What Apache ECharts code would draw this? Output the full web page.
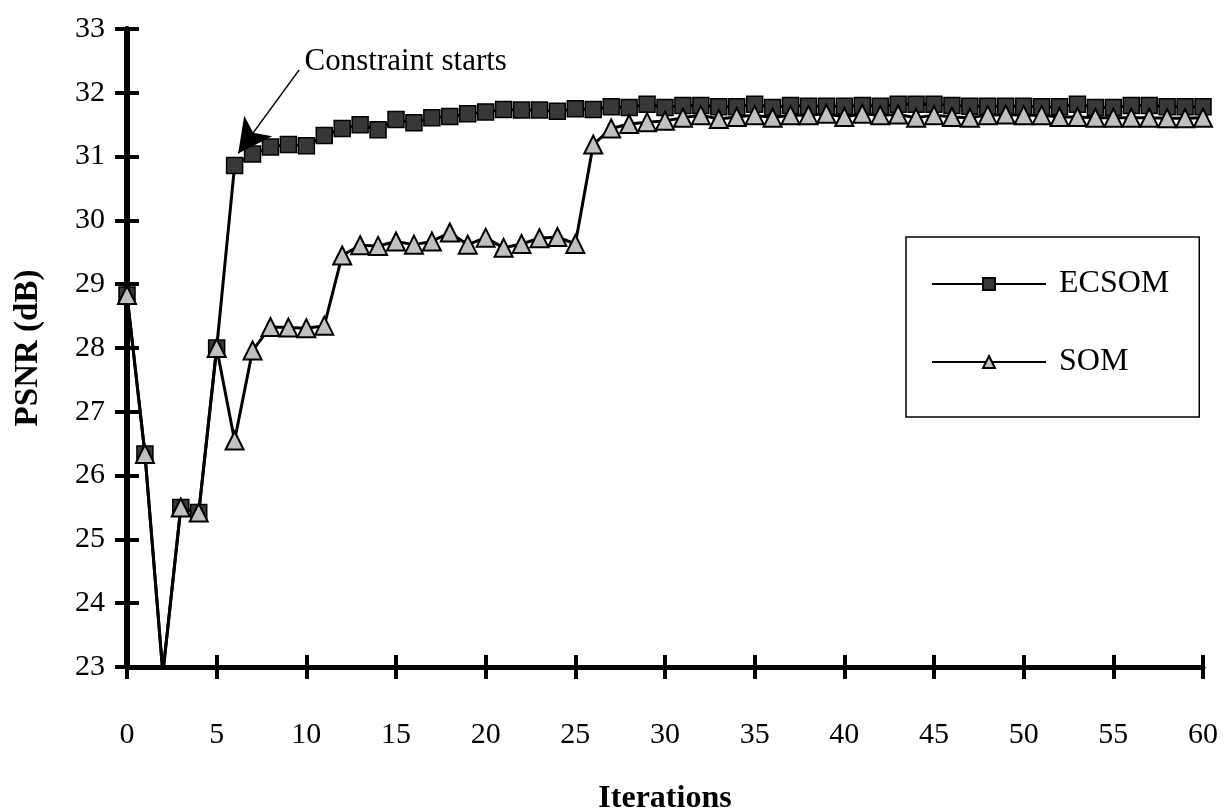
<!DOCTYPE html>
<html>
<head>
<meta charset="utf-8">
<script src="https://cdn.jsdelivr.net/npm/echarts@6/dist/echarts.min.js"></script>
<style>
html, body { margin: 0; padding: 0; background: #fff; }
#echarts { width: 1224px; height: 810px; }
</style>
</head>
<body>
<div id="echarts"></div>
<script>
// iterations (x)
var iterations = [0,1,2,3,4,5,6,7,8,9,10,11,12,13,14,15,16,17,18,19,20,
    21,22,23,24,25,26,27,28,29,30,31,32,33,34,35,36,37,38,39,40,
    41,42,43,44,45,46,47,48,49,50,51,52,53,54,55,56,57,58,59,60];
// PSNR values
var ecsom = [28.83,26.34,22.9,25.5,25.42,28.0,30.86,31.04,31.15,31.19,31.17,
    31.33,31.44,31.5,31.42,31.58,31.53,31.61,31.63,31.67,31.7,
    31.74,31.73,31.73,31.71,31.75,31.74,31.78,31.77,31.82,31.77,
    31.8,31.8,31.78,31.78,31.82,31.77,31.8,31.79,31.79,31.79,
    31.8,31.79,31.82,31.82,31.82,31.8,31.79,31.79,31.79,31.79,
    31.78,31.78,31.82,31.77,31.77,31.8,31.8,31.78,31.78,31.78];
var som = [28.83,26.34,22.9,25.5,25.42,28.0,26.55,27.96,28.33,28.32,28.31,
    28.35,29.45,29.61,29.6,29.67,29.62,29.67,29.81,29.62,29.73,
    29.57,29.63,29.72,29.74,29.63,31.19,31.44,31.51,31.54,31.56,
    31.61,31.65,31.59,31.62,31.65,31.61,31.65,31.65,31.67,31.62,
    31.67,31.65,31.66,31.61,31.65,31.62,31.61,31.65,31.66,31.65,
    31.65,31.62,31.62,31.61,31.61,31.61,31.61,31.6,31.6,31.61];
// annotation: text anchor, arrow start, arrow tip (data coords)
var noteText = 'Constraint starts';
var notePos = [9.9, 32.49];
var arrowFrom = [9.6, 32.36];
var arrowTo = [6.2, 31.05];

var pairs = function (ys) {
    return iterations.map(function (x, i) { return [x, ys[i]]; });
};

var serif = 'Liberation Serif';
var myChart = echarts.init(document.getElementById('echarts'));
option = {
    backgroundColor: '#fff',
    animation: false,
    textStyle: { fontFamily: serif, color: '#000' },
    grid: { left: 127, right: 21, top: 29, bottom: 143, outerBoundsMode: 'none', containLabel: false },
    legend: {
        orient: 'vertical',
        left: 906,
        top: 237,
        padding: [31, 30, 39, 25],
        itemGap: 46,
        itemWidth: 114,
        itemHeight: 15,
        borderColor: '#000',
        borderWidth: 1.5,
        textStyle: { fontFamily: serif, fontSize: 32, color: '#000', padding: [0, 0, 0, 8] },
        data: ['ECSOM', 'SOM']
    },
    xAxis: [{
        type: 'value', position: 'bottom',
        min: 0, max: 60, interval: 5,
        name: 'Iterations', nameLocation: 'middle', nameGap: 116,
        nameTextStyle: { fontFamily: serif, fontSize: 32, fontWeight: 'bold', color: '#000' },
        axisLine: { lineStyle: { color: '#000', width: 5 } },
        axisTick: { show: true, length: 12, lineStyle: { color: '#000', width: 4 } },
        axisLabel: { fontFamily: serif, fontSize: 30, color: '#000', margin: 53 },
        splitLine: { show: false }
    }, {
        type: 'value', position: 'bottom',
        min: 0, max: 60, interval: 5,
        axisLine: { show: false },
        axisTick: { show: true, inside: true, length: 12, lineStyle: { color: '#000', width: 4 } },
        axisLabel: { show: false },
        splitLine: { show: false }
    }],
    yAxis: [{
        type: 'value', position: 'left',
        min: 23, max: 33, interval: 1,
        name: 'PSNR (dB)', nameLocation: 'middle', nameGap: 82,
        nameTextStyle: { fontFamily: serif, fontSize: 33, fontWeight: 'bold', color: '#000' },
        axisLine: { show: true, lineStyle: { color: '#000', width: 6 } },
        axisTick: { show: true, length: 12, lineStyle: { color: '#000', width: 4 } },
        axisLabel: { fontFamily: serif, fontSize: 30, color: '#000', margin: 22 },
        splitLine: { show: false }
    }, {
        type: 'value', position: 'left',
        min: 23, max: 33, interval: 1,
        axisLine: { show: false },
        axisTick: { show: true, inside: true, length: 12, lineStyle: { color: '#000', width: 4 } },
        axisLabel: { show: false },
        splitLine: { show: false }
    }],
    series: [
        {
            name: 'ECSOM',
            type: 'line',
            data: pairs(ecsom),
            symbol: 'rect',
            symbolSize: 16,
            itemStyle: { color: '#383838', borderColor: '#000', borderWidth: 1.5 },
            lineStyle: { color: '#000', width: 3 },
            markLine: {
                silent: true,
                symbol: ['none', 'arrow'],
                symbolSize: [26, 34],
                lineStyle: { color: '#000', width: 1.5, type: 'solid' },
                label: { show: false },
                data: [[{ coord: arrowFrom }, { coord: arrowTo }]]
            },
            markPoint: {
                silent: true,
                symbol: 'circle',
                symbolSize: 0,
                label: {
                    show: true, position: 'right', distance: 0,
                    formatter: noteText,
                    fontFamily: serif, fontSize: 31, color: '#000'
                },
                data: [{ coord: notePos }]
            }
        },
        {
            name: 'SOM',
            type: 'line',
            data: pairs(som),
            symbol: 'triangle',
            symbolSize: 18,
            itemStyle: { color: '#c0c0c0', borderColor: '#000', borderWidth: 2 },
            lineStyle: { color: '#000', width: 3 }
        }
    ]
};
myChart.setOption(option);
</script>
</body>
</html>
